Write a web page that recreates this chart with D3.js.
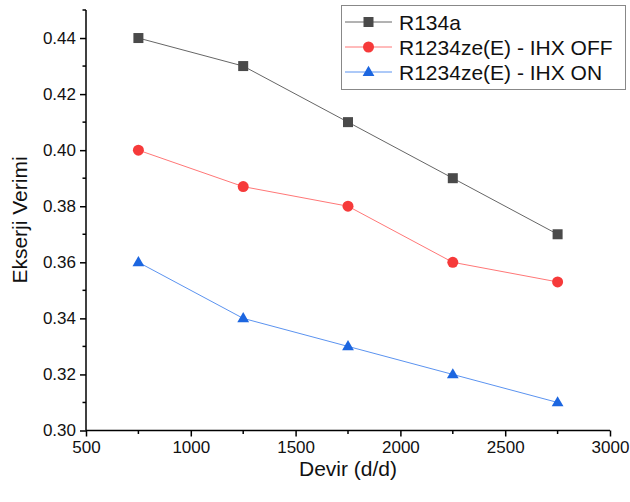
<!DOCTYPE html>
<html>
<head>
<style>
html, body { margin:0; padding:0; background:#fff; }
svg { font-family: "Liberation Sans", Arial, sans-serif; }
</style>
</head>
<body>
<svg id="chart" width="630" height="502"></svg>
<script src="https://cdn.jsdelivr.net/npm/d3@7"></script>
<script>
var devir = [750, 1250, 1750, 2250, 2750];
var r134a = [0.44, 0.43, 0.41, 0.39, 0.37];
var ihxOff = [0.40, 0.387, 0.38, 0.36, 0.353];
var ihxOn = [0.36, 0.34, 0.33, 0.32, 0.31];
var seriesNames = ["R134a", "R1234ze(E) - IHX OFF", "R1234ze(E) - IHX ON"];
var xTicks = [500, 1000, 1500, 2000, 2500, 3000];
var yTicks = [0.30, 0.32, 0.34, 0.36, 0.38, 0.40, 0.42, 0.44];

var series = [
    {name: seriesNames[0], values: r134a, color: "#4a4a4a", line: "#666", shape: "square"},
    {name: seriesNames[1], values: ihxOff, color: "#f63a3a", line: "#f77", shape: "circle"},
    {name: seriesNames[2], values: ihxOn, color: "#1c66e0", line: "#5b93f0", shape: "triangle"}
];

var svg = d3.select("#chart");
var x = d3.scaleLinear().domain([500, 3000]).range([86, 610]);
var y = d3.scaleLinear().domain([0.30, 0.45]).range([430.5, 10]);

// axes
var xAxis = d3.axisBottom(x).tickValues(xTicks).tickFormat(d3.format("d")).tickSize(6).tickSizeOuter(0).tickPadding(4);
var gx = svg.append("g").attr("transform", "translate(0,430.5)").call(xAxis);
svg.append("g").attr("transform", "translate(0,430.5)")
    .selectAll("line").data(d3.range(750, 3000, 500)).enter().append("line")
    .attr("x1", function(d){ return x(d); }).attr("x2", function(d){ return x(d); })
    .attr("y1", 0).attr("y2", 3.5).attr("stroke", "#000").attr("stroke-width", 1.5);

var yAxis = d3.axisLeft(y).tickValues(yTicks).tickFormat(d3.format(".2f")).tickSize(6).tickSizeOuter(0).tickPadding(4);
var gy = svg.append("g").attr("transform", "translate(86,0)").call(yAxis);
svg.append("g").attr("transform", "translate(86,0)")
    .selectAll("line").data([0.31, 0.33, 0.35, 0.37, 0.39, 0.41, 0.43, 0.45]).enter().append("line")
    .attr("y1", function(d){ return y(d); }).attr("y2", function(d){ return y(d); })
    .attr("x1", 0).attr("x2", -3.5).attr("stroke", "#000").attr("stroke-width", 1.5);

[gx, gy].forEach(function(g){
    g.attr("font-family", null);
    g.selectAll("path").attr("stroke", "#000").attr("stroke-width", 1.5);
    g.selectAll("line").attr("stroke", "#000").attr("stroke-width", 1.5);
    g.selectAll("text").attr("font-size", 17).attr("fill", "#111");
});
gx.select(".domain").attr("d", "M86,0H610");
gy.select(".domain").attr("d", "M0,10V430.5");

svg.append("text").attr("x", 348).attr("y", 476).attr("text-anchor", "middle")
    .attr("font-size", 21).attr("fill", "#111").text("Devir (d/d)");
svg.append("text").attr("transform", "translate(27,220) rotate(-90)").attr("text-anchor", "middle")
    .attr("font-size", 21).attr("fill", "#111").text("Ekserji Verimi");

function marker(g, shape, color, cx, cy) {
    if (shape === "square") {
        g.append("rect").attr("x", cx - 5).attr("y", cy - 5).attr("width", 10).attr("height", 10).attr("fill", color);
    } else if (shape === "circle") {
        g.append("circle").attr("cx", cx).attr("cy", cy).attr("r", 5.5).attr("fill", color);
    } else {
        g.append("path").attr("d", d3.symbol().type(d3.symbolTriangle).size(60)())
            .attr("transform", "translate(" + cx + "," + (cy + 0.5) + ")").attr("fill", color);
    }
}

var line = d3.line().x(function(d, i){ return x(devir[i]); }).y(function(d){ return y(d); });
series.forEach(function(s){
    var g = svg.append("g");
    g.append("path").attr("d", line(s.values)).attr("fill", "none").attr("stroke", s.line).attr("stroke-width", 1);
    s.values.forEach(function(v, i){ marker(g, s.shape, s.color, x(devir[i]), y(v)); });
});

// legend
var lg = svg.append("g");
lg.append("rect").attr("x", 341.5).attr("y", 5.5).attr("width", 284).attr("height", 84)
    .attr("fill", "#fff").attr("stroke", "#888").attr("stroke-width", 1);
series.forEach(function(s, i){
    var cy = 22 + i * 25;
    lg.append("line").attr("x1", 345).attr("x2", 392).attr("y1", cy).attr("y2", cy)
        .attr("stroke", s.line).attr("stroke-width", 1);
    marker(lg, s.shape, s.color, 368.5, cy);
    lg.append("text").attr("x", 399).attr("y", cy + 7.5).attr("font-size", 21).attr("fill", "#111").text(s.name);
});
</script>
</body>
</html>
